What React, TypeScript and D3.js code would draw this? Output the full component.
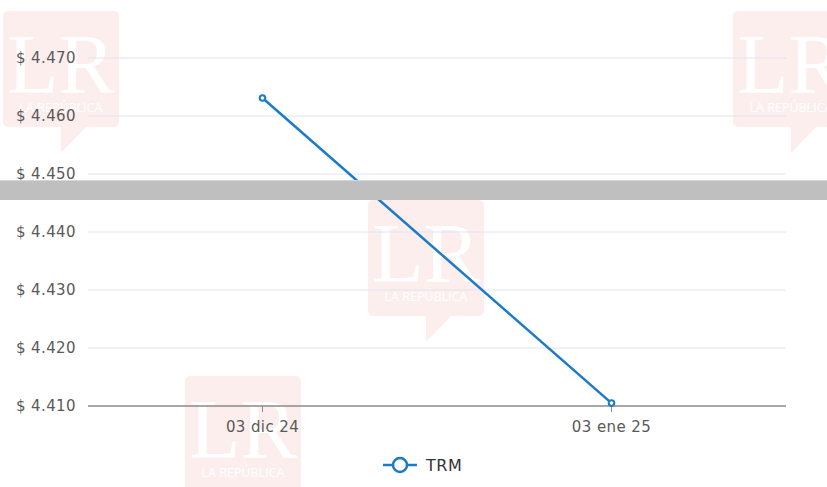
import { useEffect, useRef } from 'react';
import * as d3 from 'd3';

// Serie TRM (pesos por dólar)
const CATEGORIES = ['03 dic 24', '03 ene 25'];
const TRM_VALUES = [4463.1, 4410.5];
const Y_TICKS = [4410, 4420, 4430, 4440, 4450, 4460, 4470];
const SERIES_NAME = 'TRM';

const WIDTH = 827;
const HEIGHT = 487;
const LINE_COLOR = '#1b7bc8';
const FONT = '"DejaVu Sans", Verdana, sans-serif';

// marcas de agua LR (esquina superior izquierda del recuadro)
const WATERMARKS = [
  { x: 3, y: 11 },
  { x: 733, y: 11 },
  { x: 368, y: 200 },
  { x: 185, y: 376 },
];

const fmt = (v: number) => '$ ' + d3.format(',')(v).replace(/,/g, '.');

export default function App() {
  const svgRef = useRef<SVGSVGElement>(null);

  useEffect(() => {
    if (!svgRef.current) return;
    const svg = d3.select(svgRef.current);
    svg.selectAll('*').remove();

    const margin = { left: 88, right: 41, top: 58, bottom: 81 };
    const x = d3
      .scalePoint<string>()
      .domain(CATEGORIES)
      .range([margin.left, WIDTH - margin.right])
      .padding(0.5);
    const y = d3
      .scaleLinear()
      .domain([4410, 4470])
      .range([HEIGHT - margin.bottom, margin.top]);

    // marcas de agua
    const wm = svg.append('g');
    WATERMARKS.forEach((w) => {
      const g = wm.append('g').attr('transform', `translate(${w.x},${w.y})`);
      g.append('rect').attr('width', 116).attr('height', 116).attr('rx', 5).attr('fill', '#fdeeee');
      g.append('path').attr('d', 'M58,115 L58,142 L84,115 Z').attr('fill', '#fdeeee');
      g.append('text')
        .attr('x', 58)
        .attr('y', 82)
        .attr('text-anchor', 'middle')
        .attr('fill', '#ffffff')
        .style('font-family', '"Liberation Serif", serif')
        .style('font-size', '84px')
        .text('LR');
      g.append('text')
        .attr('x', 58)
        .attr('y', 101)
        .attr('text-anchor', 'middle')
        .attr('fill', '#ffffff')
        .style('font-family', '"Open Sans", sans-serif')
        .style('font-size', '12.5px')
        .text('LA REPÚBLICA');
    });

    // rejilla
    svg
      .append('g')
      .selectAll('line')
      .data(Y_TICKS.slice(1))
      .join('line')
      .attr('x1', margin.left)
      .attr('x2', WIDTH - margin.right)
      .attr('y1', (d) => y(d))
      .attr('y2', (d) => y(d))
      .attr('stroke', '#e2e2f0')
      .attr('stroke-width', 1);

    // etiquetas eje Y
    svg
      .append('g')
      .selectAll('text')
      .data(Y_TICKS)
      .join('text')
      .attr('x', 76)
      .attr('y', (d) => y(d) + 5)
      .attr('text-anchor', 'end')
      .attr('fill', '#5a5a5a')
      .style('font-family', FONT)
      .style('font-size', '15px')
      .style('letter-spacing', '0.4px')
      .text((d) => fmt(d));

    // eje X
    const base = y(4410);
    svg
      .append('line')
      .attr('x1', margin.left)
      .attr('x2', WIDTH - margin.right)
      .attr('y1', base)
      .attr('y2', base)
      .attr('stroke', '#8a8a8a')
      .attr('stroke-width', 1.5);
    const xt = svg.append('g').selectAll('g').data(CATEGORIES).join('g');
    xt.append('line')
      .attr('x1', (d) => x(d)!)
      .attr('x2', (d) => x(d)!)
      .attr('y1', base)
      .attr('y2', base + 6)
      .attr('stroke', '#8a8a8a');
    xt.append('text')
      .attr('x', (d) => x(d)!)
      .attr('y', base + 26)
      .attr('text-anchor', 'middle')
      .attr('fill', '#5a5a5a')
      .style('font-family', FONT)
      .style('font-size', '15px')
      .style('letter-spacing', '0.4px')
      .text((d) => d);

    // línea
    const pts = CATEGORIES.map((c, i) => [x(c)!, y(TRM_VALUES[i])] as [number, number]);
    svg
      .append('path')
      .attr('d', d3.line()(pts)!)
      .attr('fill', 'none')
      .attr('stroke', LINE_COLOR)
      .attr('stroke-width', 2.5);
    svg
      .append('g')
      .selectAll('circle')
      .data(pts)
      .join('circle')
      .attr('cx', (d) => d[0])
      .attr('cy', (d) => d[1])
      .attr('r', 2.8)
      .attr('fill', '#fff')
      .attr('stroke', LINE_COLOR)
      .attr('stroke-width', 2);

    // banda gris superpuesta
    svg.append('rect').attr('x', 0).attr('y', 181).attr('width', WIDTH).attr('height', 19).attr('fill', '#bfbfbf');
    svg.append('line').attr('x1', 0).attr('x2', WIDTH).attr('y1', 180.5).attr('y2', 180.5).attr('stroke', '#d6d6d6');

    // leyenda
    const lg = svg.append('g').attr('transform', 'translate(400,465)');
    lg.append('line').attr('x1', -17).attr('x2', 17).attr('stroke', LINE_COLOR).attr('stroke-width', 2.5);
    lg.append('circle').attr('r', 7).attr('fill', '#fff').attr('stroke', LINE_COLOR).attr('stroke-width', 2.5);
    lg.append('text')
      .attr('x', 26)
      .attr('y', 6)
      .attr('fill', '#333')
      .style('font-family', FONT)
      .style('font-size', '16px')
      .style('letter-spacing', '0.5px')
      .text(SERIES_NAME);
  }, []);

  return (
    <svg
      ref={svgRef}
      width={WIDTH}
      height={HEIGHT}
      style={{ position: 'absolute', left: 0, top: 0, background: '#fff' }}
    />
  );
}
